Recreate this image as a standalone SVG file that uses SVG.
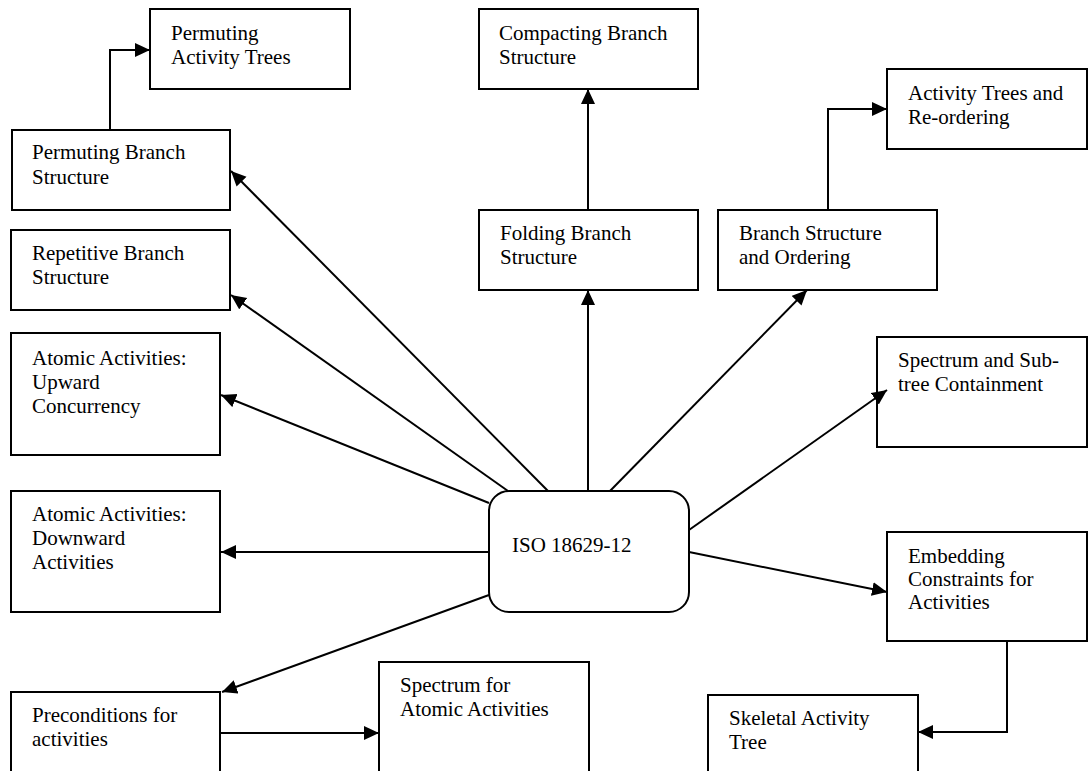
<svg xmlns="http://www.w3.org/2000/svg" width="1088" height="771" viewBox="0 0 1088 771">
<style>
.box{fill:#fff;stroke:#000;stroke-width:2}
.t{font-family:"Liberation Serif","Times New Roman",serif;font-size:21px;fill:#000}
.c{fill:none;stroke:#000;stroke-width:2}
</style>
<defs>
<marker id="ah" markerUnits="userSpaceOnUse" markerWidth="16" markerHeight="16" refX="15" refY="7" orient="auto">
<path d="M0,0 L15,7 L0,14 z" fill="#000"/>
</marker>
</defs>
<rect width="1088" height="771" fill="#fff"/>
<g id="n-perm-trees"><rect class="box" x="150" y="9" width="200" height="80"/><text class="t" x="171" y="40">Permuting</text><text class="t" x="171" y="64">Activity Trees</text></g>
<g id="n-perm-branch"><rect class="box" x="12" y="130" width="218" height="80"/><text class="t" x="32" y="159">Permuting Branch</text><text class="t" x="32" y="184">Structure</text></g>
<g id="n-compacting"><rect class="box" x="479" y="9" width="219" height="80"/><text class="t" x="499" y="40">Compacting Branch</text><text class="t" x="499" y="64">Structure</text></g>
<g id="n-reorder"><rect class="box" x="887" y="69" width="200" height="80"/><text class="t" x="908" y="100">Activity Trees and</text><text class="t" x="908" y="124">Re-ordering</text></g>
<g id="n-folding"><rect class="box" x="479" y="210" width="219" height="80"/><text class="t" x="500" y="240">Folding Branch</text><text class="t" x="500" y="264">Structure</text></g>
<g id="n-ordering"><rect class="box" x="718" y="210" width="219" height="80"/><text class="t" x="739" y="240">Branch Structure</text><text class="t" x="739" y="264">and Ordering</text></g>
<g id="n-repetitive"><rect class="box" x="11" y="230" width="219" height="80"/><text class="t" x="32" y="260">Repetitive Branch</text><text class="t" x="32" y="284">Structure</text></g>
<g id="n-upward"><rect class="box" x="11" y="333" width="209" height="122"/><text class="t" x="32" y="365">Atomic Activities:</text><text class="t" x="32" y="389">Upward</text><text class="t" x="32" y="413">Concurrency</text></g>
<g id="n-subtree"><rect class="box" x="877" y="337" width="210" height="110"/><text class="t" x="898" y="367">Spectrum and Sub-</text><text class="t" x="898" y="391">tree Containment</text></g>
<g id="n-downward"><rect class="box" x="11" y="491" width="209" height="121"/><text class="t" x="32" y="521">Atomic Activities:</text><text class="t" x="32" y="545">Downward</text><text class="t" x="32" y="569">Activities</text></g>
<g id="n-iso"><rect class="box" x="489" y="491" width="200" height="121" rx="20" ry="20"/><text class="t" x="512" y="552">ISO 18629-12</text></g>
<g id="n-embedding"><rect class="box" x="887" y="532" width="200" height="109"/><text class="t" x="908" y="563">Embedding</text><text class="t" x="908" y="586">Constraints for</text><text class="t" x="908" y="609">Activities</text></g>
<g id="n-preconditions"><rect class="box" x="11" y="692" width="209" height="100"/><text class="t" x="32" y="722">Preconditions for</text><text class="t" x="32" y="746">activities</text></g>
<g id="n-spectrum-atomic"><rect class="box" x="379" y="662" width="210" height="130"/><text class="t" x="400" y="692">Spectrum for</text><text class="t" x="400" y="716">Atomic Activities</text></g>
<g id="n-skeletal"><rect class="box" x="708" y="695" width="210" height="100"/><text class="t" x="729" y="725">Skeletal Activity</text><text class="t" x="729" y="749">Tree</text></g>
<g id="connectors" class="c" marker-end="url(#ah)">
<line class="c" x1="548" y1="491" x2="231" y2="171" marker-end="url(#ah)"/>
<line class="c" x1="508" y1="491" x2="231" y2="295" marker-end="url(#ah)"/>
<line class="c" x1="489" y1="503" x2="221" y2="395" marker-end="url(#ah)"/>
<line class="c" x1="489" y1="552" x2="221" y2="552" marker-end="url(#ah)"/>
<line class="c" x1="489" y1="595" x2="222" y2="692" marker-end="url(#ah)"/>
<line class="c" x1="588" y1="491" x2="588" y2="290" marker-end="url(#ah)"/>
<line class="c" x1="610" y1="491" x2="807" y2="290" marker-end="url(#ah)"/>
<line class="c" x1="689" y1="530" x2="887" y2="390" marker-end="url(#ah)"/>
<line class="c" x1="689" y1="552" x2="887" y2="592" marker-end="url(#ah)"/>
<line class="c" x1="588" y1="210" x2="588" y2="89" marker-end="url(#ah)"/>
<polyline class="c" points="110,130 110,50 150,50" marker-end="url(#ah)"/>
<polyline class="c" points="828,210 828,109 887,109" marker-end="url(#ah)"/>
<polyline class="c" points="1007,641 1007,732 918,732" marker-end="url(#ah)"/>
<line class="c" x1="220" y1="733" x2="379" y2="733" marker-end="url(#ah)"/>
</g>
</svg>
